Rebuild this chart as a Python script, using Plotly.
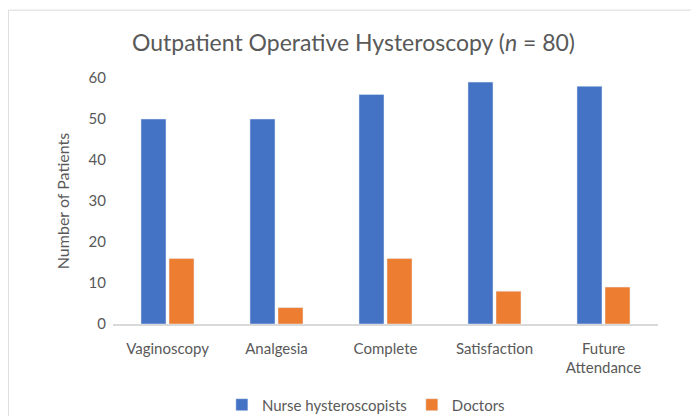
import plotly.graph_objects as go

categories = ['Vaginoscopy', 'Analgesia', 'Complete', 'Satisfaction', 'Future<br>Attendance']
nurse_values = [50, 50, 56, 59, 58]
doctor_values = [16, 4, 16, 8, 9]

fig = go.Figure()
fig.add_trace(go.Bar(x=categories, y=nurse_values, name='Nurse hysteroscopists',
                     marker_color='#4472C4'))
fig.add_trace(go.Bar(x=categories, y=doctor_values, name='Doctors',
                     marker_color='#ED7D31'))

# page body has an 8px margin, so the figure is sized to fit inside the window
fig.update_layout(
    width=691, height=408,
    margin=dict(l=105, r=41, t=70, b=92, autoexpand=False),
    paper_bgcolor='white', plot_bgcolor='white',
    font=dict(family='Lato, Open Sans, sans-serif', color='#595959', size=15),
    title=dict(text='Outpatient Operative Hysteroscopy (<i>n</i> = 80)',
               x=0.5, xanchor='center', y=0.914, yanchor='middle',
               font=dict(size=23, color='#595959')),
    barmode='group', bargap=0.486, bargroupgap=0.107,
    legend=dict(orientation='h', x=0.464, xanchor='center', y=-0.329, yanchor='middle',
                font=dict(size=15, color='#595959'), itemwidth=30),
    xaxis=dict(showline=True, linecolor='#D9D9D9', linewidth=1.5, ticks='',
               automargin=False, ticklabelstandoff=10,
               tickfont=dict(size=15, color='#595959')),
    yaxis=dict(range=[0, 60], dtick=10, showgrid=False, zeroline=False,
               automargin=False, ticklabelstandoff=6,
               title=dict(text='Number of Patients', font=dict(size=16, color='#595959'), standoff=14),
               tickfont=dict(size=15, color='#595959')),
)

# light outer border of the chart area
fig.add_shape(type='rect', xref='paper', yref='paper',
              x0=-0.192, x1=1.2, y0=-0.5, y1=1.276,
              line=dict(color='#D9D9D9', width=1), layer='below')

fig.write_html('out.html')
